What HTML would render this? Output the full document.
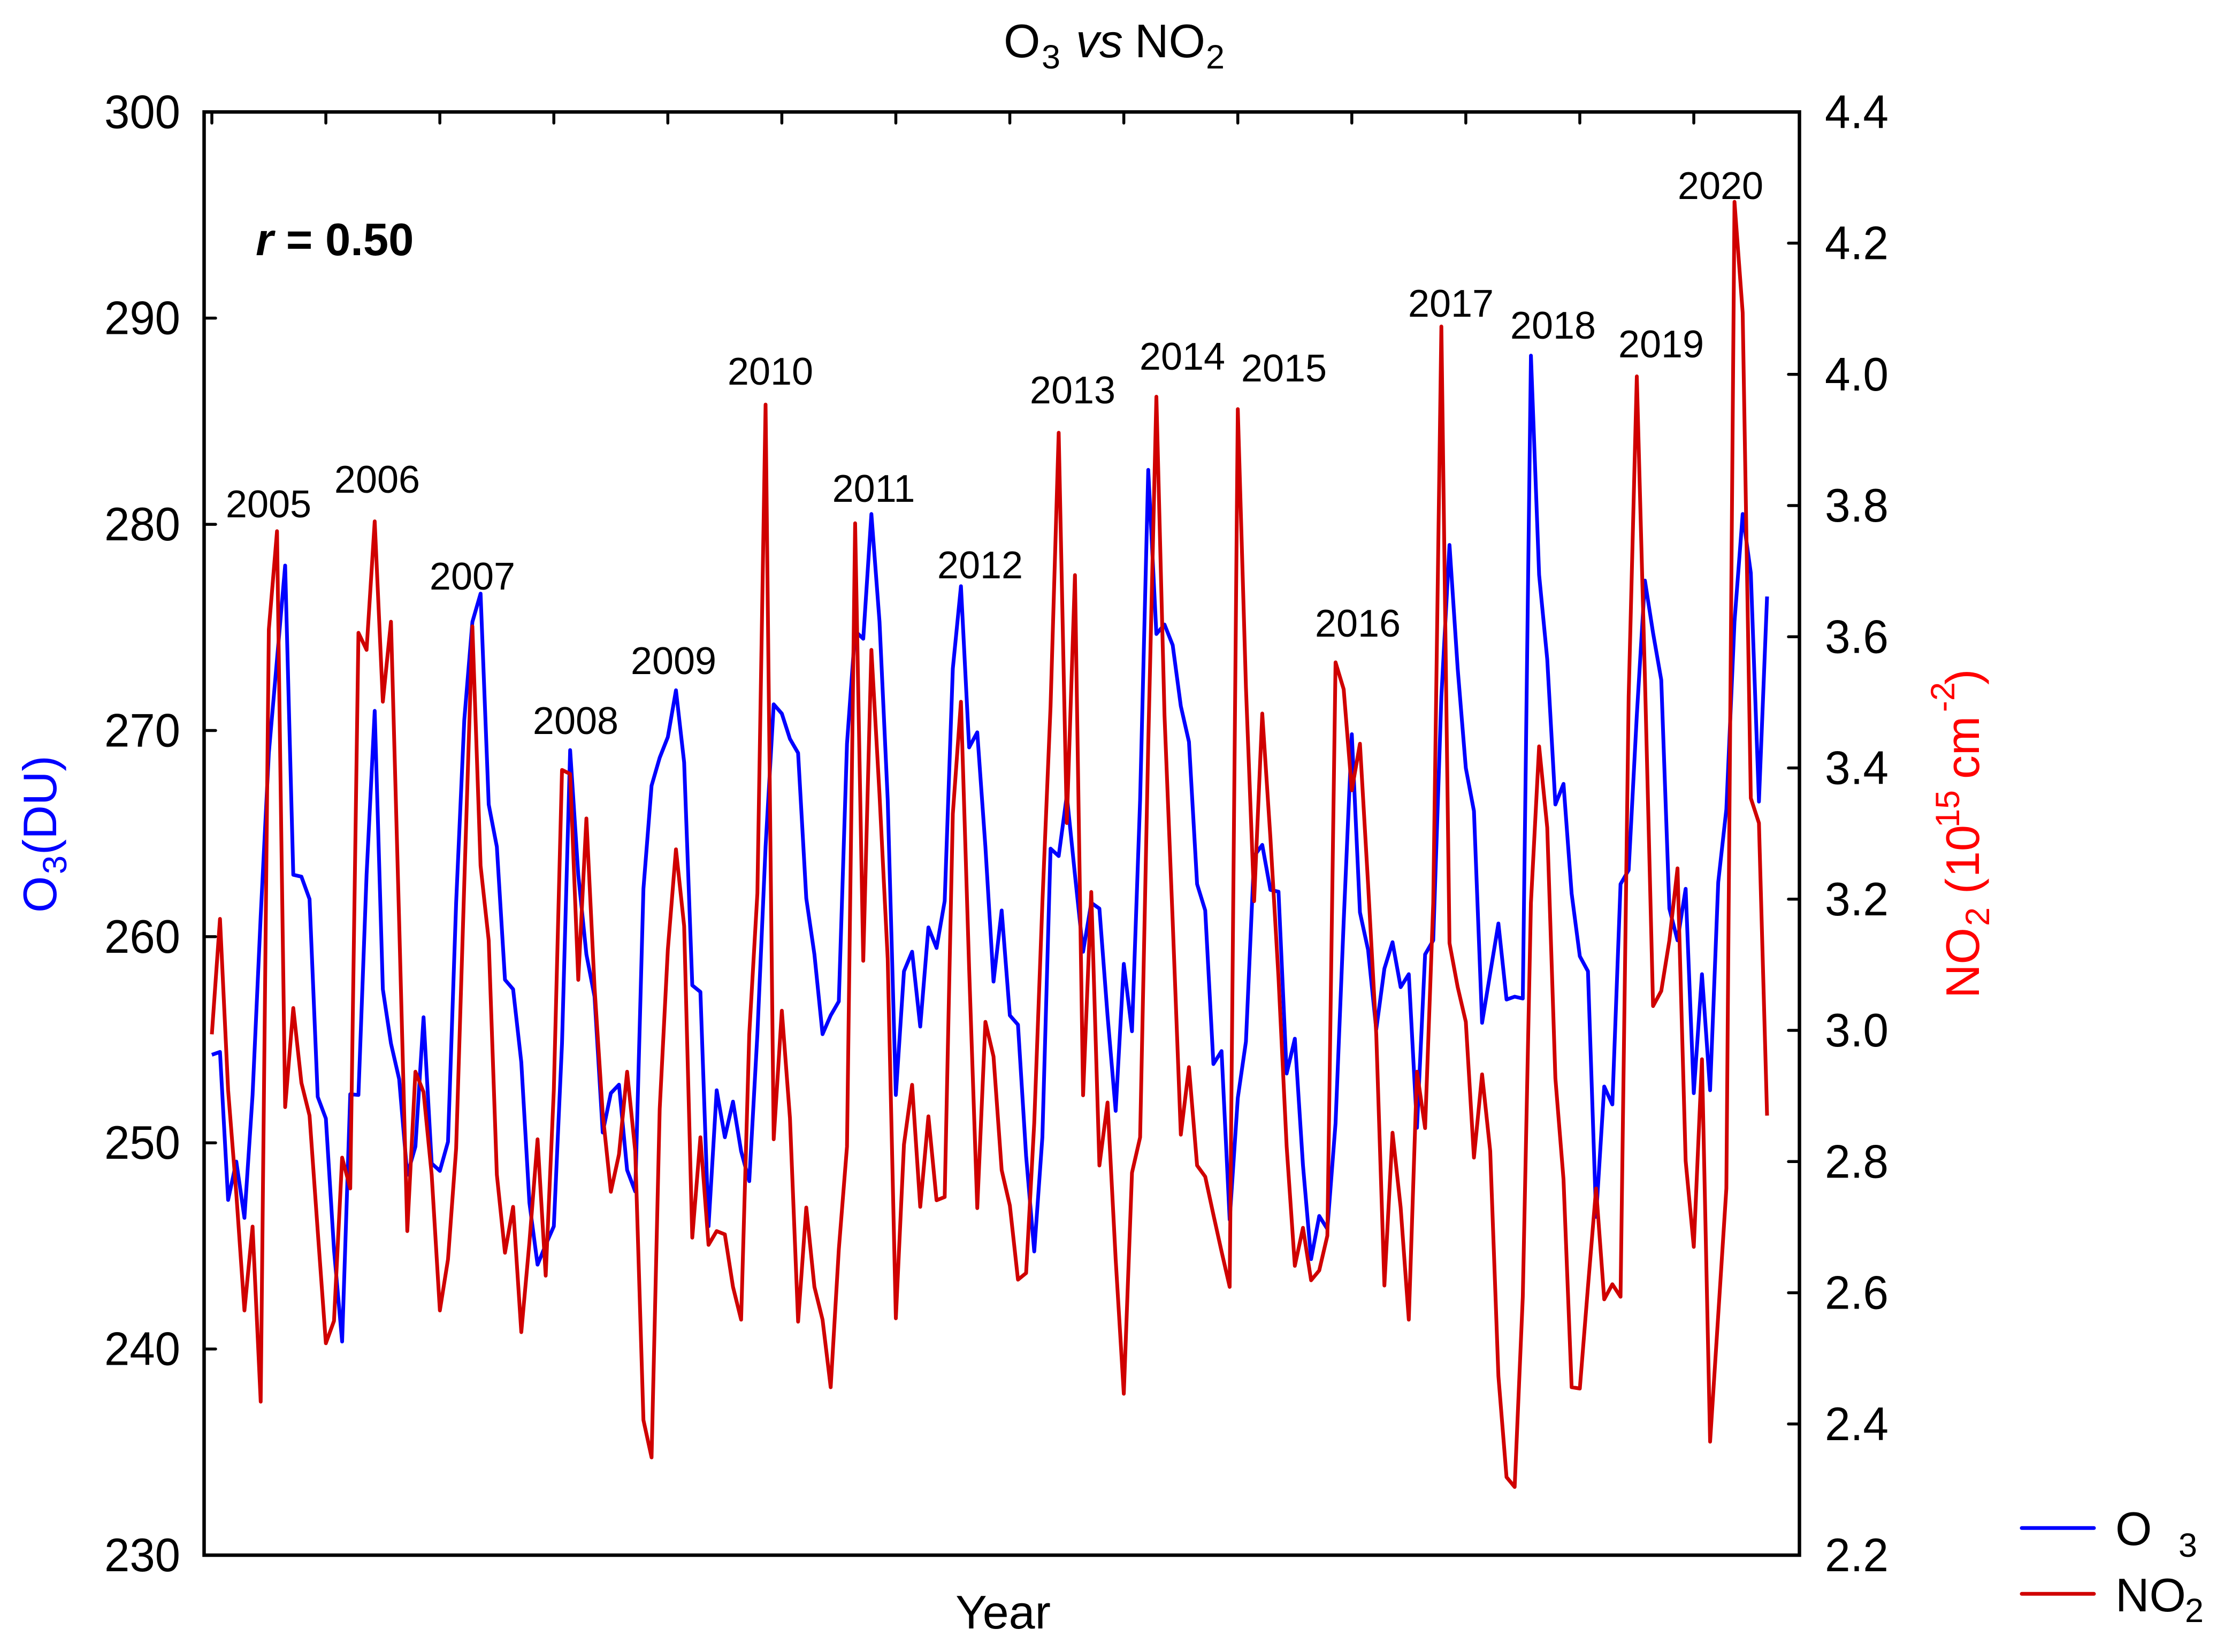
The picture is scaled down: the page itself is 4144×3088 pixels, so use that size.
<!DOCTYPE html>
<html lang="en">
<head>
<meta charset="utf-8">
<title>O3 vs NO2</title>
<style>
html,body{margin:0;padding:0;background:#fff;}
svg{display:block;font-family:"Liberation Sans",Arial,sans-serif;}
.yr{font-size:72px;text-anchor:middle;fill:#000;}
.big{font-size:88px;}
.sm{font-size:63px;}
</style>
</head>
<body>
<svg id="chart" xmlns="http://www.w3.org/2000/svg" width="4144" height="3088" viewBox="0 0 4144 3088">
  <rect x="0" y="0" width="4144" height="3088" fill="#fff"/>

  <g>
    <text class="big" x="1876" y="107">O</text>
    <text class="sm" x="1947" y="128">3</text>
    <text class="big" x="2011" y="107" font-style="italic">vs</text>
    <text class="big" x="2121" y="107">NO</text>
    <text class="sm" x="2254" y="128">2</text>
  </g>

  <g id="marks"></g>

  <rect x="381.5" y="209.3" width="2982" height="2697.7" fill="none" stroke="#000" stroke-width="6.5"/>
  <g id="ticks"></g>

  <text x="478" y="477" font-size="85" font-weight="bold" xml:space="preserve"><tspan font-style="italic">r</tspan> = 0.50</text>

  <g transform="translate(0,-2)">
    <text class="yr" x="502" y="969">2005</text>
    <text class="yr" x="705" y="923">2006</text>
    <text class="yr" x="883" y="1104">2007</text>
    <text class="yr" x="1076" y="1374">2008</text>
    <text class="yr" x="1259" y="1262">2009</text>
    <text class="yr" x="1440" y="721">2010</text>
    <text class="yr" x="1633" y="940">2011</text>
    <text class="yr" x="1832" y="1083">2012</text>
    <text class="yr" x="2005" y="756">2013</text>
    <text class="yr" x="2210" y="693">2014</text>
    <text class="yr" x="2400" y="715">2015</text>
    <text class="yr" x="2538" y="1192">2016</text>
    <text class="yr" x="2712" y="594">2017</text>
    <text class="yr" x="2903" y="635">2018</text>
    <text class="yr" x="3105" y="670">2019</text>
    <text class="yr" x="3216" y="374">2020</text>
  </g>

  <g fill="#0000ff">
    <text class="big" transform="translate(105,1706) rotate(-90)">O</text>
    <text class="sm" transform="translate(124,1634) rotate(-90)">3</text>
    <text class="big" transform="translate(105,1598) rotate(-90)">(DU)</text>
  </g>

  <g fill="#ff0000">
    <text class="big" transform="translate(3699,1866) rotate(-90)">NO</text>
    <text class="sm" transform="translate(3718,1731) rotate(-90)">2</text>
    <text class="big" transform="translate(3699,1671) rotate(-90)">(</text>
    <text class="big" transform="translate(3699,1640) rotate(-90)">10</text>
    <text class="sm" transform="translate(3662,1547) rotate(-90)">15</text>
    <text class="big" transform="translate(3699,1456) rotate(-90)">cm</text>
    <text class="sm" transform="translate(3653,1331) rotate(-90)">-2</text>
    <text class="big" transform="translate(3699,1280) rotate(-90)">)</text>
  </g>

  <text class="big" x="1875" y="3044" text-anchor="middle">Year</text>

  <g>
    <g>
      <line x1="3779" y1="2856.3" x2="3914" y2="2856.3" stroke="#0000ff" stroke-width="7" stroke-linecap="round"/>
      <text class="big" x="3954" y="2888">O</text>
      <text class="sm" x="4072" y="2910">3</text>
    </g>
    <g>
      <line x1="3779" y1="2979.3" x2="3914" y2="2979.3" stroke="#d00000" stroke-width="7" stroke-linecap="round"/>
      <text class="big" x="3954" y="3012">NO</text>
      <text class="sm" x="4084" y="3032">2</text>
    </g>
  </g>
</svg>

<script>
const leftTickLabels = ["230","240","250","260","270","280","290","300"];
const rightTickLabels = ["2.2","2.4","2.6","2.8","3.0","3.2","3.4","3.6","3.8","4.0","4.2","4.4"];

const o3Values = [
254.27,254.41,247.23,249.09,246.36,252.32,261.0,268.9,273.45,278,263,262.91,
261.82,252.23,251.18,244.82,240.36,252.36,252.32,263,270.95,257.45,254.82,253.09,
248.45,249.82,256.09,249,248.64,250.05,261.64,270.5,275.27,276.64,266.41,264.36,
257.91,257.45,253.91,247.09,244.09,245.05,245.95,254.82,269.05,263,259.14,257.09,
250.5,252.41,252.82,248.68,247.64,262.32,267.32,268.68,269.68,271.95,268.45,257.64,
257.32,245.95,252.55,250.27,252,249.59,248.14,255.27,264.36,271.27,270.82,269.59,
268.91,261.86,259.14,255.27,256.18,256.86,269.36,274.82,274.45,280.5,275.27,266.64,
252.32,258.32,259.27,255.64,260.45,259.45,261.73,273,277,269.18,269.91,264.36,
257.82,261.27,256.18,255.73,249.36,244.73,250.27,264.27,263.91,266.86,263,259.27,
261.64,261.36,256.18,251.55,258.68,255.41,266.64,282.64,274.68,275.14,274.14,271.18,
269.45,262.55,261.27,253.82,254.45,246.27,252.18,254.91,263.91,264.45,262.27,262.18,
253.36,255.05,248.91,244.36,246.45,245.82,250.95,260.73,269.82,261.18,259.36,255.5,
258.45,259.73,257.55,258.18,250.73,259.14,259.82,271.64,279,273,268.18,266.09,
255.82,258.23,260.64,256.95,257.09,257,288.18,277.55,273.45,266.41,267.41,262.09,
259.05,258.32,246.41,252.73,251.86,262.55,263.23,270.73,277.27,274.73,272.45,261.36,
259.82,262.32,252.41,258.18,252.55,262.64,266.18,275.27,280.5,277.64,266.55,276.5
];

const no2Values = [
2.994,3.170,2.909,2.751,2.573,2.701,2.434,3.611,3.761,2.883,3.034,2.92,
2.87,2.694,2.523,2.557,2.806,2.759,3.606,3.58,3.776,3.501,3.623,3.166,
2.694,2.937,2.906,2.78,2.573,2.651,2.82,3.223,3.616,3.251,3.137,2.78,
2.661,2.731,2.54,2.677,2.834,2.626,2.909,3.397,3.391,3.077,3.323,3.066,
2.873,2.754,2.811,2.937,2.816,2.406,2.349,2.88,3.123,3.276,3.159,2.684,
2.837,2.673,2.694,2.689,2.609,2.559,2.994,3.209,3.954,2.834,3.03,2.866,
2.556,2.73,2.609,2.559,2.456,2.666,2.823,3.773,3.106,3.58,3.359,3.109,
2.561,2.826,2.917,2.731,2.869,2.741,2.746,3.33,3.501,3.094,2.729,3.013,
2.96,2.787,2.733,2.62,2.63,2.859,3.194,3.494,3.911,3.316,3.694,2.901,
3.211,2.794,2.89,2.651,2.446,2.783,2.837,3.437,3.966,3.48,3.166,2.841,
2.944,2.794,2.777,2.719,2.663,2.609,3.947,3.523,3.197,3.483,3.294,3.08,
2.823,2.641,2.699,2.619,2.634,2.687,3.561,3.52,3.366,3.437,3.223,2.994,
2.611,2.844,2.73,2.559,2.937,2.851,3.194,4.073,3.133,3.066,3.013,2.806,
2.933,2.816,2.473,2.319,2.304,2.594,3.194,3.433,3.309,2.927,2.773,2.456,
2.454,2.609,2.759,2.59,2.613,2.594,3.509,3.997,3.537,3.037,3.06,3.137,
3.247,2.801,2.67,2.956,2.373,2.566,2.759,4.263,4.094,3.354,3.316,2.87
];

const SVG_NS = "http://www.w3.org/2000/svg";
const plotTop = 209.3, plotBottom = 2907;
const xStart = 396, xStep = 15.22, xTickEvery = 14;

function xScale(i) { return xStart + i * xStep; }
function yLeft(v) { return plotBottom - (v - 230) / 70 * (plotBottom - plotTop); }
function yRight(v) { return plotBottom - (v - 2.2) / 2.2 * (plotBottom - plotTop); }

function makeLine(x1, y1, x2, y2) {
  const l = document.createElementNS(SVG_NS, "line");
  l.setAttribute("x1", x1);
  l.setAttribute("y1", y1);
  l.setAttribute("x2", x2);
  l.setAttribute("y2", y2);
  l.setAttribute("stroke", "#000");
  l.setAttribute("stroke-width", "5.5");
  l.setAttribute("stroke-linecap", "round");
  return l;
}

function makeLabel(txt, x, y, anchor, len) {
  const t = document.createElementNS(SVG_NS, "text");
  t.setAttribute("x", x);
  t.setAttribute("y", y);
  t.setAttribute("text-anchor", anchor);
  t.setAttribute("font-size", "88");
  t.setAttribute("textLength", len);
  t.setAttribute("lengthAdjust", "spacingAndGlyphs");
  t.textContent = txt;
  return t;
}

const ticksGroup = document.getElementById("ticks");

leftTickLabels.forEach(function (lab) {
  const y = yLeft(parseFloat(lab));
  if (y > plotTop + 1 && y < plotBottom - 1) {
    const tick = makeLine(384, y, 403, y);
    
    
    ticksGroup.appendChild(tick);
  }
  const text = makeLabel(lab, 337, y + 30, "end", 142);
  
  
  ticksGroup.appendChild(text);
});

rightTickLabels.forEach(function (lab) {
  const y = yRight(parseFloat(lab));
  if (y > plotTop + 1 && y < plotBottom - 1) {
    const tick = makeLine(3343, y, 3361, y);
    
    
    ticksGroup.appendChild(tick);
  }
  const text = makeLabel(lab, 3411, y + 30, "start", 119);
  
  
  ticksGroup.appendChild(text);
});

for (let i = 0; i < o3Values.length; i += xTickEvery) {
  const tick = makeLine(xScale(i), 212, xScale(i), 230);
  
  
  ticksGroup.appendChild(tick);
}

function drawSeries(values, yFn, color) {
  const pts = values.map(function (v, i) {
    return xScale(i).toFixed(1) + "," + yFn(v).toFixed(1);
  }).join(" ");
  const p = document.createElementNS(SVG_NS, "polyline");
  p.setAttribute("points", pts);
  p.setAttribute("fill", "none");
  p.setAttribute("stroke", color);
  p.setAttribute("stroke-width", "7");
  p.setAttribute("stroke-linejoin", "round");
  p.setAttribute("stroke-linecap", "butt");
  return p;
}

const marks = document.getElementById("marks");

const o3Line = drawSeries(o3Values, yLeft, "#0000ff");


marks.appendChild(o3Line);

const no2Line = drawSeries(no2Values, yRight, "#d00000");


marks.appendChild(no2Line);
</script>
</body>
</html>
